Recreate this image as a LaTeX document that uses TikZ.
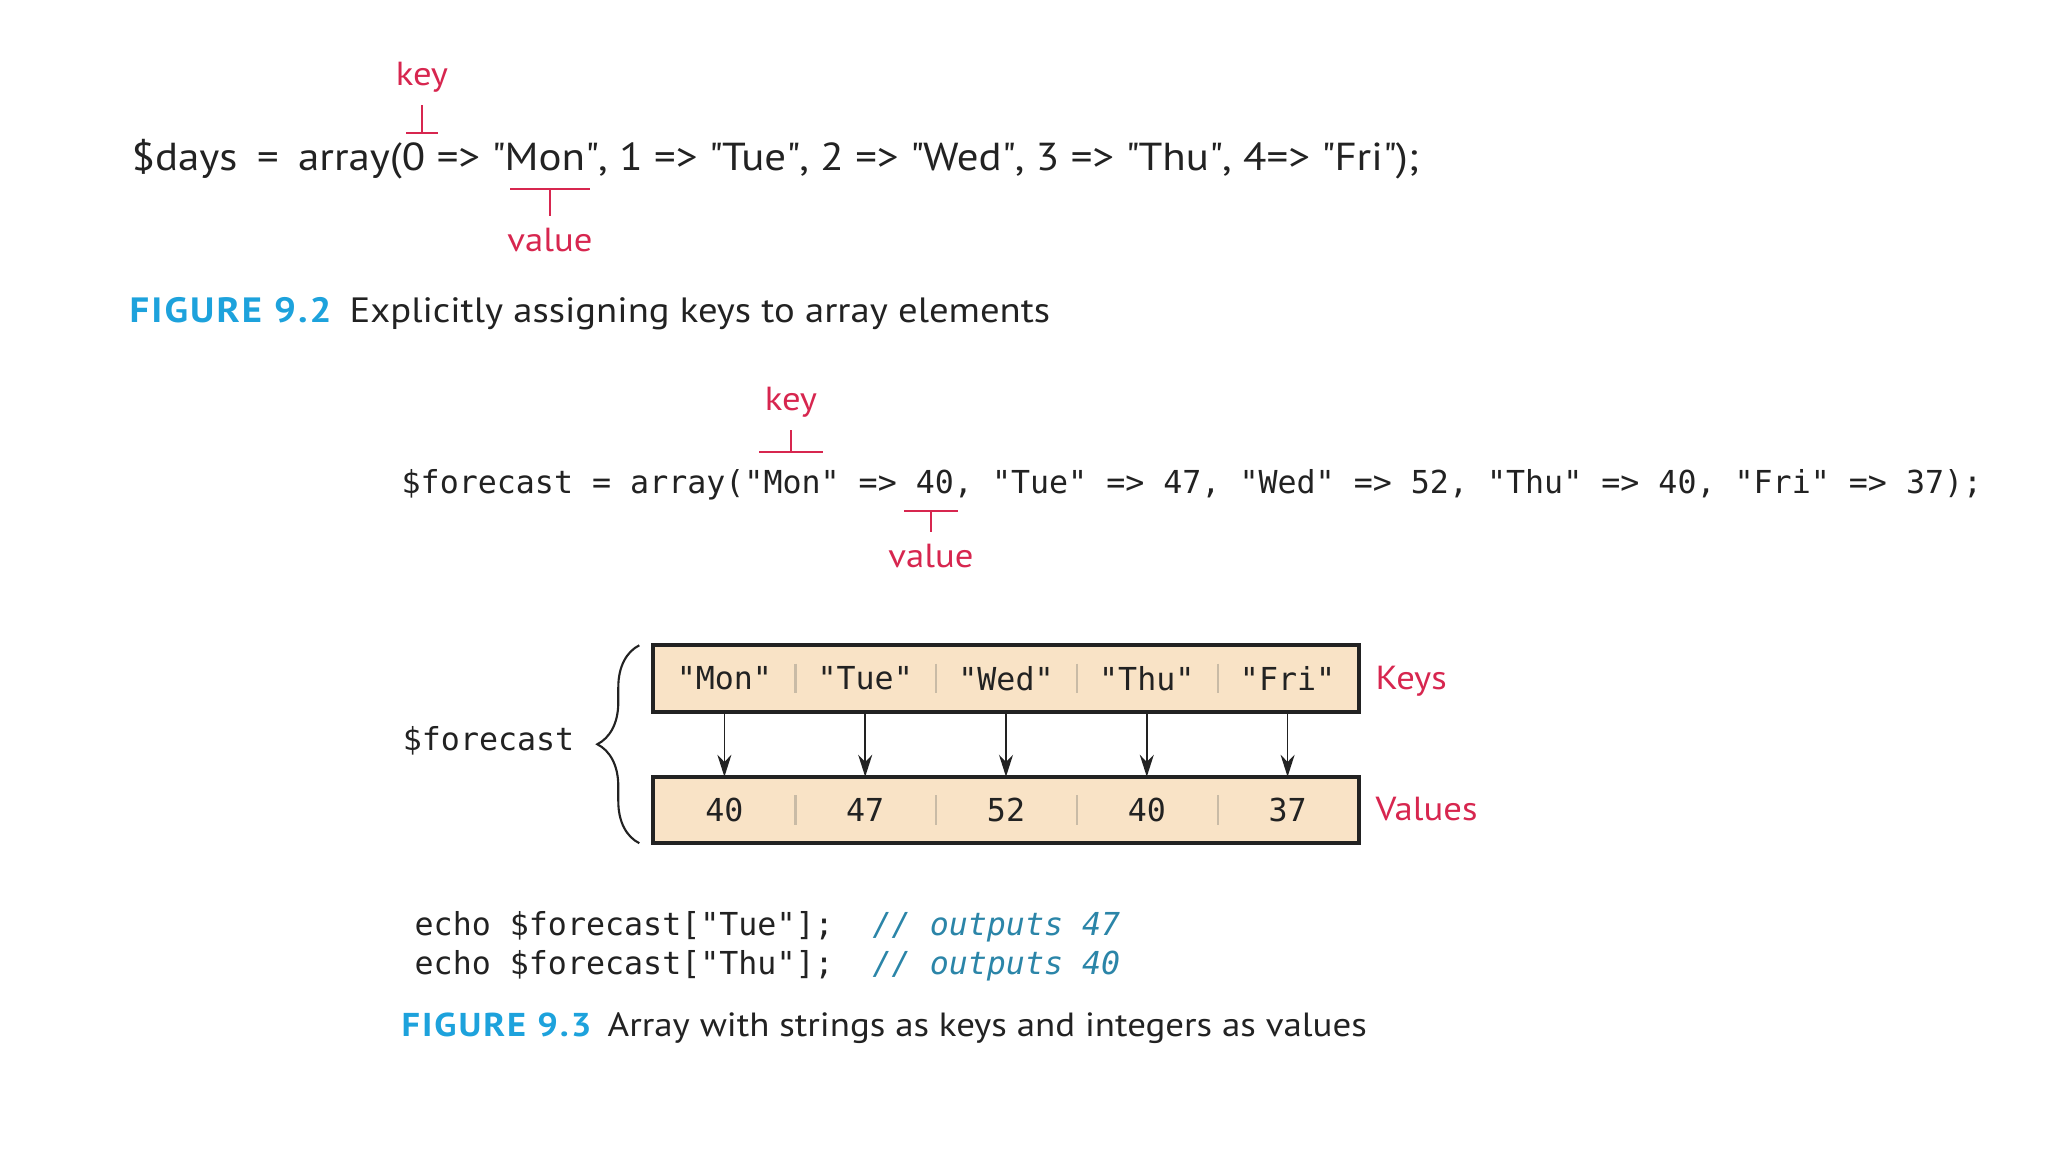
\documentclass[tikz,border=0pt]{standalone}
\usepackage{fontspec}
\setmainfont{PT Sans}[FakeStretch=1.1]
\newfontfamily\codefont{DejaVu Sans Mono}
\usetikzlibrary{arrows.meta,decorations.pathreplacing}
\definecolor{keyred}{HTML}{D7264F}
\definecolor{figcyan}{HTML}{1DA2DC}
\definecolor{cmtteal}{HTML}{2B85A8}
\definecolor{cellfill}{HTML}{F9E3C6}
\definecolor{cellsep}{HTML}{C9BBA6}
\definecolor{inkdark}{HTML}{222222}
\newcommand\qt[1]{\textquotedbl#1\textquotedbl}

\begin{document}
\begin{tikzpicture}[
    sanstext/.style={text=inkdark, inner xsep=0pt, font=\fontsize{11.1}{13}\selectfont},
    codetext/.style={text=inkdark, inner xsep=0pt, font=\codefont\fontsize{9}{10}\selectfont},
    cmt/.style={text=cmtteal, inner xsep=0pt, font=\codefont\itshape\fontsize{9}{10}\selectfont},
    tag/.style={text=keyred, inner xsep=0pt, font=\fontsize{9.5}{11}\selectfont},
    caphead/.style={text=figcyan, inner xsep=0pt, font=\bfseries\fontsize{10}{12}\selectfont\addfontfeatures{LetterSpace=6}},
    captext/.style={text=inkdark, inner xsep=0pt, font=\fontsize{10}{12}\selectfont},
    tagline/.style={keyred, line width=0.6pt},
    cell/.style={fill=cellfill, minimum width=1.408cm, minimum height=0.65cm, inner sep=0pt},
    link/.style={-{Stealth[length=2.2mm,width=1.4mm]}, line width=0.5pt, inkdark},
  ]
    \useasboundingbox (0,0) rectangle (20.48,-11.52);

    % Figure 9.2
    \node[sanstext, anchor=base west] (daysline) at (1.31,-1.71) {\$days\enspace=\enspace array(0 => \qt{Mon}, 1 => \qt{Tue}, 2 => \qt{Wed}, 3 => \qt{Thu}, 4=> \qt{Fri});};
    \node[tag, anchor=base] (keyA) at (4.22,-0.86) {key};
    \coordinate (keyA tip) at (4.22,-1.33);
    \draw[tagline] (keyA.south) -- (keyA tip);
    \draw[tagline] ([xshift=-0.16cm]keyA tip) -- ([xshift=0.16cm]keyA tip);
    \node[tag, anchor=base] (valA) at (5.50,-2.52) {value};
    \coordinate (valA tip) at (5.50,-1.89);
    \draw[tagline] (valA tip) -- (valA.north);
    \draw[tagline] ([xshift=-0.40cm]valA tip) -- ([xshift=0.40cm]valA tip);
    \node[caphead, anchor=base west] (figA) at (1.29,-3.23) {FIGURE 9.2};
    \node[captext, anchor=base west] (capA) at (3.49,-3.23) {Explicitly assigning keys to array elements};

    % Figure 9.3
    \node[codetext, anchor=base west] (fcline) at (4.01,-4.94) {\$forecast = array("Mon" => 40, "Tue" => 47, "Wed" => 52, "Thu" => 40, "Fri" => 37);};
    \node[tag, anchor=base] (keyB) at (7.91,-4.11) {key};
    \coordinate (keyB tip) at (7.91,-4.52);
    \draw[tagline] (keyB.south) -- (keyB tip);
    \draw[tagline] ([xshift=-0.32cm]keyB tip) -- ([xshift=0.32cm]keyB tip);
    \node[tag, anchor=base] (valB) at (9.31,-5.68) {value};
    \coordinate (valB tip) at (9.31,-5.11);
    \draw[tagline] (valB tip) -- (valB.north);
    \draw[tagline] ([xshift=-0.27cm]valB tip) -- ([xshift=0.27cm]valB tip);

    \foreach \i/\k/\v in {1/Mon/40, 2/Tue/47, 3/Wed/52, 4/Thu/40, 5/Fri/37} {
      \node[codetext, cell] (k\i) at ({6.54+1.408*(\i-0.5)},-6.785) {"\k"};
      \node[codetext, cell] (v\i) at ({6.54+1.408*(\i-0.5)},-8.10) {\v};
      \draw[link] (k\i.south) -- (v\i.north);
    }
    \foreach \i in {1,...,4} {
      \draw[cellsep, line width=0.6pt] ([yshift=0.15cm]k\i.east) -- ([yshift=-0.15cm]k\i.east);
      \draw[cellsep, line width=0.6pt] ([yshift=0.15cm]v\i.east) -- ([yshift=-0.15cm]v\i.east);
    }
    \draw[line width=1.2pt, inkdark] (k1.north west) rectangle (k5.south east);
    \draw[line width=1.2pt, inkdark] (v1.north west) rectangle (v5.south east);
    \draw[inkdark, line width=0.6pt, decorate, decoration={brace, amplitude=0.42cm}]
      ([xshift=-0.14cm]v1.south west) -- ([xshift=-0.14cm]k1.north west);
    \node[codetext, anchor=base east] (fcname) at (5.75,-7.51) {\$forecast};
    \node[tag, anchor=base west] (keyslbl) at (13.75,-6.90) {Keys};
    \node[tag, anchor=base west] (valslbl) at (13.75,-8.20) {Values};

    \node[codetext, anchor=base west] (echoA) at (4.14,-9.35) {echo \$forecast["Tue"];};
    \node[cmt, anchor=base west] (cmtA) at (8.72,-9.35) {// outputs 47};
    \node[codetext, anchor=base west] (echoB) at (4.14,-9.74) {echo \$forecast["Thu"];};
    \node[cmt, anchor=base west] (cmtB) at (8.72,-9.74) {// outputs 40};
    \node[caphead, anchor=base west, font=\bfseries\fontsize{9.4}{11}\selectfont\addfontfeatures{LetterSpace=6}] (figB) at (4.01,-10.36) {FIGURE 9.3};
    \node[captext, anchor=base west, font=\fontsize{9.55}{11}\selectfont] (capB) at (6.07,-10.36) {Array with strings as keys and integers as values};
\end{tikzpicture}
\end{document}
